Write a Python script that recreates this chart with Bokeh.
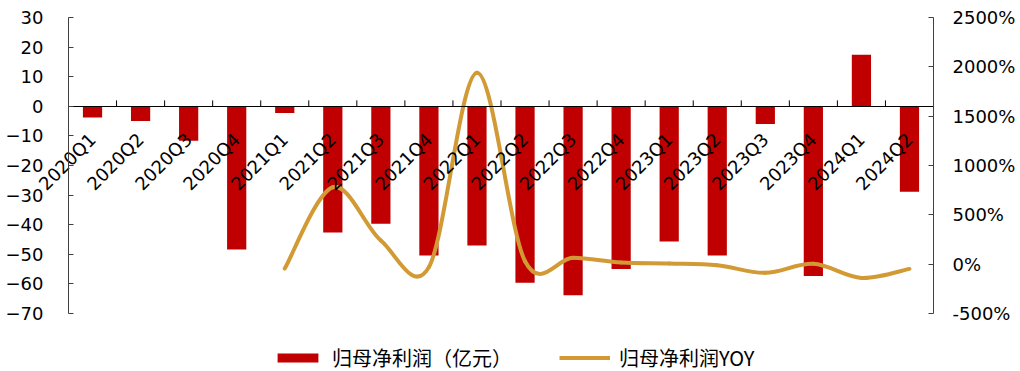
import math

from bokeh.embed import file_html
from bokeh.models import (ColumnDataSource, FixedTicker, Legend, LegendItem,
                          LinearAxis, PrintfTickFormatter, Range1d)
from bokeh.plotting import figure
from bokeh.resources import INLINE

# Quarterly net profit attributable to parent (100m yuan) and its YoY change (%)
categories = ["2020Q1", "2020Q2", "2020Q3", "2020Q4",
              "2021Q1", "2021Q2", "2021Q3", "2021Q4",
              "2022Q1", "2022Q2", "2022Q3", "2022Q4",
              "2023Q1", "2023Q2", "2023Q3", "2023Q4",
              "2024Q1", "2024Q2"]
net_profit = [-3.8, -5.0, -11.6, -48.4,
              -2.3, -42.6, -39.7, -50.4,
              -47.0, -59.6, -63.8, -55.0,
              -45.7, -50.4, -6.0, -57.3,
              17.4, -28.9]
yoy_pct = [None, None, None, None,
           -45, 780, 240, -30,
           1940, 30, 64, 17,
           7, -10, -88, 3,
           -139, -48]

left_ticks = list(range(-70, 31, 10))
right_ticks = list(range(-500, 2501, 500))

BAR = "#C00000"
GOLD = "#D29A34"
AXIS = "#404040"
FONT = "DejaVu Sans"
CJK = "Noto Sans CJK SC"

# page geometry: the frame fills the page, the plotting box sits inside it
W, H = 1020, 371
BOX_L, BOX_R, BOX_T, BOX_B = 68, 933, 17, 313

n_cat = len(categories)
slot = (BOX_R - BOX_L) / n_cat
x_range = Range1d(-BOX_L / slot, n_cat + (W - BOX_R) / slot)


def padded(lo, hi):
    per_px = (hi - lo) / (BOX_B - BOX_T)
    return Range1d(lo - (H - BOX_B) * per_px, hi + BOX_T * per_px)


p = figure(width=W, height=H, x_range=x_range,
           y_range=padded(left_ticks[0], left_ticks[-1]),
           output_backend="svg", toolbar_location=None,
           min_border=0)
p.extra_y_ranges = {"yoy": padded(right_ticks[0], right_ticks[-1])}
p.outline_line_color = None
p.xgrid.visible = False
p.ygrid.visible = False
p.xaxis.visible = False
p.yaxis.visible = False


def style_value_axis(ax, standoff):
    ax.major_tick_in = 5
    ax.major_tick_out = 0
    ax.minor_tick_line_color = None
    ax.axis_line_color = AXIS
    ax.major_tick_line_color = AXIS
    ax.major_label_standoff = standoff
    ax.major_label_text_font = FONT
    ax.major_label_text_font_size = "18px"
    ax.major_label_text_color = "black"


# left value axis (100m yuan)
ly = LinearAxis(ticker=FixedTicker(ticks=left_ticks),
                bounds=(left_ticks[0], left_ticks[-1]), fixed_location=0)
style_value_axis(ly, 25)
p.add_layout(ly, "left")

# right percentage axis
ry = LinearAxis(y_range_name="yoy", ticker=FixedTicker(ticks=right_ticks),
                formatter=PrintfTickFormatter(format="%d%%"),
                bounds=(right_ticks[0], right_ticks[-1]), fixed_location=n_cat)
style_value_axis(ry, 19)
p.add_layout(ry, "right")

src = ColumnDataSource(dict(x=[i + 0.5 for i in range(n_cat)],
                            cat=categories, profit=net_profit))
bars = p.vbar(x="x", top="profit", bottom=0, width=0.4, source=src,
              fill_color=BAR, line_color=None)

# quarter axis along the zero line, labels hanging below it
centers = src.data["x"]
qx = LinearAxis(ticker=FixedTicker(ticks=centers),
                major_label_overrides={c: q for c, q in zip(centers, categories)},
                bounds=(0, n_cat), fixed_location=0)
qx.axis_line_color = "black"
qx.major_tick_line_color = None
qx.minor_tick_line_color = None
qx.major_label_orientation = math.pi / 4
qx.major_label_standoff = 24
qx.major_label_text_font = FONT
qx.major_label_text_font_size = "18px"
qx.major_label_text_color = "black"
p.add_layout(qx, "below")

# short marks between quarters, standing on the zero line
edges = list(range(1, n_cat))
p.segment(x0=edges, x1=edges, y0=[0] * len(edges), y1=[2.0] * len(edges),
          line_color="black", line_width=1)

# smoothed YoY curve: Catmull-Rom segments drawn as cubic Beziers
pts = [(centers[i], v) for i, v in enumerate(yoy_pct) if v is not None]
m = len(pts)
seg = dict(x0=[], y0=[], x1=[], y1=[], cx0=[], cy0=[], cx1=[], cy1=[])
for i in range(m - 1):
    xp, yp = pts[max(i - 1, 0)]
    xa, ya = pts[i]
    xb, yb = pts[i + 1]
    xn, yn = pts[min(i + 2, m - 1)]
    seg["x0"].append(xa)
    seg["y0"].append(ya)
    seg["x1"].append(xb)
    seg["y1"].append(yb)
    seg["cx0"].append(xa + (xb - xp) / 6)
    seg["cy0"].append(ya + (yb - yp) / 6)
    seg["cx1"].append(xb - (xn - xa) / 6)
    seg["cy1"].append(yb - (yn - ya) / 6)
p.bezier(source=ColumnDataSource(seg), x0="x0", y0="y0", x1="x1", y1="y1",
         cx0="cx0", cy0="cy0", cx1="cx1", cy1="cy1", y_range_name="yoy",
         line_color=GOLD, line_width=4, line_cap="round")

# a one-point line carries the curve's legend swatch
yoy_key = p.line(x=[pts[0][0]], y=[pts[0][1]], y_range_name="yoy",
                 line_color=GOLD, line_width=4)

legend = Legend(items=[LegendItem(label="归母净利润（亿元）", renderers=[bars]),
                       LegendItem(label="归母净利润YOY", renderers=[yoy_key])],
                orientation="horizontal", location=(BOX_L + 204, -1),
                glyph_width=51, glyph_height=11, label_standoff=9,
                spacing=47, padding=0, margin=0,
                border_line_color=None, background_fill_alpha=0,
                label_text_font=CJK, label_text_font_size="20px",
                label_text_color="black")
p.add_layout(legend)

open("out.html", "w").write(file_html(p, INLINE))
